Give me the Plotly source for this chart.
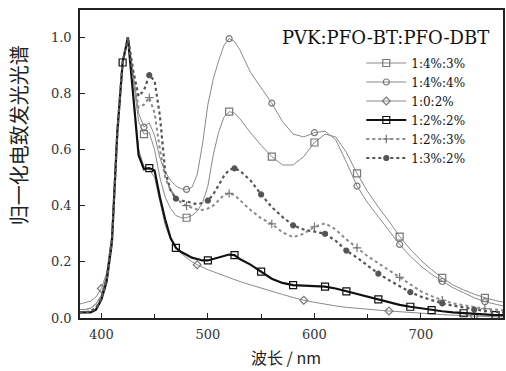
import plotly.graph_objects as go

# ---------------- data ----------------
wl = [380, 385, 390, 395, 400, 405, 410, 415, 420, 425, 430, 435, 440, 445, 450, 455,
      460, 465, 470, 475, 480, 485, 490, 495, 500, 505, 510, 515, 520, 525, 530,
      540, 550, 560, 570, 580, 590, 600, 610, 620, 630, 640, 650, 660, 670, 680,
      690, 700, 710, 720, 730, 740, 750, 760, 770, 777]

s_443 = [0.03, 0.03, 0.035, 0.05, 0.08, 0.15, 0.29, 0.66, 0.91, 1.0, 0.85, 0.70, 0.655, 0.66, 0.60, 0.50,
         0.43, 0.39, 0.365, 0.357, 0.357, 0.365, 0.38, 0.41, 0.47, 0.58, 0.66, 0.715, 0.735, 0.73, 0.71,
         0.66, 0.615, 0.575, 0.545, 0.545, 0.575, 0.625, 0.655, 0.645, 0.59, 0.515, 0.45, 0.395, 0.345, 0.29,
         0.245, 0.205, 0.172, 0.143, 0.118, 0.10, 0.085, 0.072, 0.062, 0.057]

s_444 = [0.03, 0.03, 0.035, 0.05, 0.08, 0.15, 0.29, 0.66, 0.91, 1.0, 0.87, 0.73, 0.68, 0.695, 0.65, 0.57,
         0.52, 0.49, 0.47, 0.46, 0.458, 0.465, 0.51, 0.62, 0.76, 0.85, 0.915, 0.97, 0.995, 0.985, 0.955,
         0.875, 0.82, 0.765, 0.70, 0.655, 0.645, 0.66, 0.665, 0.635, 0.555, 0.47, 0.41, 0.36, 0.31, 0.262,
         0.22, 0.185, 0.155, 0.13, 0.108, 0.09, 0.072, 0.058, 0.048, 0.043]

s_102 = [0.05, 0.055, 0.06, 0.075, 0.105, 0.16, 0.30, 0.67, 0.91, 1.0, 0.80, 0.60, 0.54, 0.53, 0.50, 0.41,
         0.33, 0.28, 0.25, 0.23, 0.215, 0.20, 0.19, 0.18, 0.172, 0.165, 0.158, 0.15, 0.143, 0.137, 0.13,
         0.118, 0.106, 0.095, 0.084, 0.073, 0.063, 0.056, 0.049, 0.043, 0.038, 0.034, 0.031, 0.028, 0.025, 0.022,
         0.019, 0.017, 0.014, 0.012, 0.010, 0.008, 0.006, 0.005, 0.004, 0.004]

s_222 = [0.02, 0.02, 0.02, 0.03, 0.065, 0.13, 0.27, 0.66, 0.91, 1.0, 0.79, 0.58, 0.53, 0.534, 0.525, 0.43,
         0.35, 0.285, 0.25, 0.235, 0.225, 0.215, 0.21, 0.205, 0.205, 0.21, 0.215, 0.222, 0.226, 0.224, 0.21,
         0.19, 0.165, 0.14, 0.125, 0.117, 0.115, 0.114, 0.112, 0.105, 0.095, 0.086, 0.076, 0.066, 0.056, 0.047,
         0.04, 0.034, 0.028, 0.024, 0.02, 0.017, 0.014, 0.012, 0.01, 0.01]

s_223 = [0.02, 0.02, 0.025, 0.035, 0.07, 0.14, 0.28, 0.66, 0.91, 1.0, 0.86, 0.75, 0.76, 0.785, 0.73, 0.60,
         0.50, 0.455, 0.43, 0.41, 0.40, 0.392, 0.386, 0.385, 0.39, 0.40, 0.418, 0.438, 0.444, 0.438, 0.42,
         0.385, 0.355, 0.335, 0.305, 0.288, 0.30, 0.325, 0.337, 0.315, 0.28, 0.25, 0.22, 0.195, 0.17, 0.145,
         0.118, 0.095, 0.078, 0.063, 0.052, 0.045, 0.038, 0.033, 0.03, 0.028]

s_232 = [0.02, 0.02, 0.025, 0.035, 0.07, 0.14, 0.28, 0.66, 0.91, 1.0, 0.88, 0.79, 0.81, 0.865, 0.845, 0.72,
         0.52, 0.455, 0.425, 0.418, 0.415, 0.41, 0.405, 0.41, 0.418, 0.44, 0.47, 0.505, 0.528, 0.533, 0.525,
         0.49, 0.44, 0.395, 0.36, 0.33, 0.315, 0.308, 0.30, 0.275, 0.24, 0.215, 0.185, 0.158, 0.135, 0.112,
         0.092, 0.076, 0.063, 0.052, 0.044, 0.037, 0.03, 0.025, 0.022, 0.02]

names = ["1:4%:3%", "1:4%:4%", "1:0:2%", "1:2%:2%", "1:2%:3%", "1:3%:2%"]
series = [s_443, s_444, s_102, s_222, s_223, s_232]

mk_443 = [440, 480, 520, 560, 600, 640, 680, 720, 760]
mk_444 = [440, 480, 520, 560, 600, 640, 680, 720, 760]
mk_102 = [400, 490, 590, 670, 750]
mk_222 = [420, 445, 470, 500, 525, 550, 580, 610, 630, 660, 690, 710, 740, 770]
mk_223 = [445, 480, 520, 560, 600, 640, 680, 720, 760]
mk_232 = [445, 470, 500, 525, 550, 580, 610, 630, 660, 690, 720, 750]
marks = [mk_443, mk_444, mk_102, mk_222, mk_223, mk_232]

legend_title = "PVK:PFO-BT:PFO-DBT"
x_title = "波长 / nm"
y_title = "归一化电致发光光谱"

# ---------------- styles ----------------
styles = [
    dict(color="#8a8a8a", width=1.0, dash="solid", symbol="square-open", msize=7, mcolor="#777"),
    dict(color="#8a8a8a", width=1.0, dash="solid", symbol="circle-open", msize=6, mcolor="#777"),
    dict(color="#8a8a8a", width=1.0, dash="solid", symbol="diamond-open", msize=6, mcolor="#777"),
    dict(color="#111111", width=2.2, dash="solid", symbol="square-open", msize=7, mcolor="#111"),
    dict(color="#8a8a8a", width=2.0, dash="dot", symbol="cross-thin-open", msize=6, mcolor="#777"),
    dict(color="#555555", width=2.2, dash="dot", symbol="circle", msize=5, mcolor="#555"),
]

fig = go.Figure()
for name, ys, mk, st in zip(names, series, marks, styles):
    fig.add_trace(go.Scatter(x=wl, y=ys, mode="lines", showlegend=False,
                             line=dict(color=st["color"], width=st["width"], dash=st["dash"])))
    idx = [wl.index(m) for m in mk]
    fig.add_trace(go.Scatter(x=[wl[i] for i in idx], y=[ys[i] for i in idx], mode="markers",
                             showlegend=False,
                             marker=dict(symbol=st["symbol"], size=st["msize"], color=st["mcolor"],
                                         line=dict(color=st["mcolor"], width=1.2))))
    fig.add_trace(go.Scatter(x=[None], y=[None], mode="lines+markers", name=name,
                             line=dict(color=st["color"], width=st["width"], dash=st["dash"]),
                             marker=dict(symbol=st["symbol"], size=st["msize"], color=st["mcolor"],
                                         line=dict(color=st["mcolor"], width=1.2))))

axis_common = dict(showline=True, linecolor="#222", linewidth=1.5, mirror=True,
                   ticks="inside", ticklen=5, tickcolor="#222", showgrid=False, zeroline=False,
                   tickfont=dict(family="DejaVu Serif", size=13, color="#333"))

fig.update_xaxes(range=[380, 777], tickvals=[400, 500, 600, 700],
                 minor=dict(ticks="inside", ticklen=4, tickvals=[450, 550, 650, 750], tickcolor="#222"),
                 ticklabelstandoff=4, **axis_common)
fig.update_yaxes(range=[0, 1.097], tickvals=[0, 0.2, 0.4, 0.6, 0.8, 1.0],
                 ticktext=["0.0", "0.2", "0.4", "0.6", "0.8", "1.0"],
                 ticklabelstandoff=4, **axis_common)

fig.update_layout(
    width=506, height=371,
    margin=dict(l=80, r=1, t=10, b=53),
    paper_bgcolor="white", plot_bgcolor="white",
    showlegend=True,
    legend=dict(x=0.665, y=0.875, xanchor="left", yanchor="top",
                bgcolor="rgba(0,0,0,0)", font=dict(family="DejaVu Serif", size=12, color="#111"),
                itemwidth=40, tracegroupgap=0),
    annotations=[
        dict(text=legend_title, xref="paper", yref="paper", x=(387 - 80) / 425, y=(318 - 37) / 308,
             showarrow=False, xanchor="center", yanchor="middle",
             font=dict(family="DejaVu Serif", size=18, color="#111")),
        dict(text=x_title, xref="paper", yref="paper", x=(287 - 80) / 425, y=(318 - 357) / 308,
             showarrow=False, xanchor="center", yanchor="middle",
             font=dict(family="Noto Sans CJK SC", size=16, color="#222")),
        dict(text=y_title, xref="paper", yref="paper", x=(18 - 80) / 425, y=(318 - 135) / 308,
             showarrow=False, xanchor="center", yanchor="middle", textangle=-90,
             font=dict(family="Noto Sans CJK SC", size=20, color="#222")),
    ],
)

fig.write_html("out.html")
